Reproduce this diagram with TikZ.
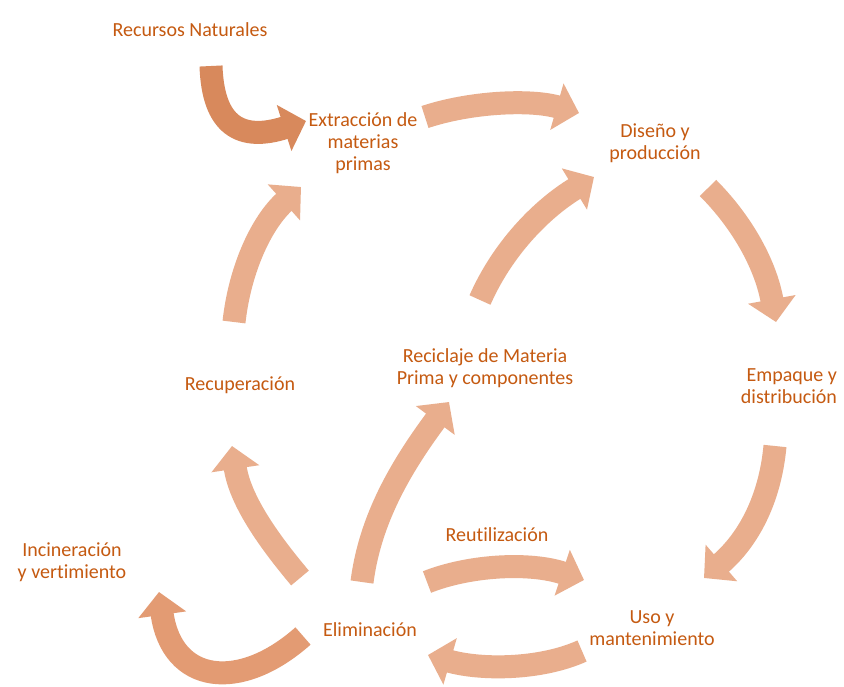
\documentclass[tikz,border=0pt]{standalone}
\usepackage{fontspec}
\setmainfont[RawFeature=-liga]{Carlito}
\usetikzlibrary{arrows.meta}
\definecolor{arrowlight}{HTML}{E9AE8D}
\definecolor{arrowdark}{HTML}{D8895C}
\definecolor{arrowmid}{HTML}{E39B73}
\definecolor{txt}{HTML}{C55A11}
\tikzset{
  blk/.style={line width=23pt, draw=arrowlight, -{Triangle[width=47pt,length=23pt]}},
  lbl/.style={text=txt, font=\fontsize{20}{22}\selectfont, align=center, inner sep=0pt}
}
\begin{document}
\begin{tikzpicture}[x=1pt,y=-1pt]
\fill[white] (0,0) rectangle (844,686);
\useasboundingbox (0,0) rectangle (844,686);
% labels
\node[lbl] (rn) at (190,30) {Recursos Naturales};
\node[lbl] (ext) at (363,143) {Extracción de\\ materias\\ primas};
\node[lbl] (dis) at (655,143) {Diseño y\\ producción};
\node[lbl, align=right] (emp) at (789,386) {Empaque y\\ distribución};
\node[lbl] (uso) at (652,628) {Uso y\\ mantenimiento};
\node[lbl] (eli) at (370,630) {Eliminación};
\node[lbl] (reu) at (497,535) {Reutilización};
\node[lbl] (rec) at (485,368) {Reciclaje de Materia\\ Prima y componentes};
\node[lbl] (recu) at (240,385) {Recuperación};
\node[lbl] (inc) at (72,562) {Incineración\\ y vertimiento};
% arrow end points
\coordinate (a1s) at (211,66);   \coordinate (a1e) at (306,121);
\coordinate (a2s) at (425,117);  \coordinate (a2e) at (579,113);
\coordinate (a3s) at (708,188);  \coordinate (a3e) at (776,322);
\coordinate (a4s) at (775,446);  \coordinate (a4e) at (704,578);
\coordinate (a5s) at (582,651);  \coordinate (a5e) at (428,655);
\coordinate (a6s) at (427,582);  \coordinate (a6e) at (584,580);
\coordinate (a7s) at (300,578);  \coordinate (a7e) at (232,446);
\coordinate (a8s) at (234,322);  \coordinate (a8e) at (301,187);
\coordinate (a9s) at (362,582);  \coordinate (a9e) at (449,402);
\coordinate (a10s) at (480,300); \coordinate (a10e) at (594,177);
\coordinate (a11s) at (303,636); \coordinate (a11e) at (159,592);
% arrows
\draw[blk, draw=arrowdark] (a1s) .. controls (213,125) and (240,142) .. (a1e);
\draw[blk] (a2s) .. controls (470,102) and (530,99) .. (a2e);
\draw[blk] (a3s) .. controls (740,220) and (765,262) .. (a3e);
\draw[blk] (a4s) .. controls (770,500) and (748,540) .. (a4e);
\draw[blk] (a5s) .. controls (540,670) and (480,670) .. (a5e);
\draw[blk] (a6s) .. controls (470,565) and (530,562) .. (a6e);
\draw[blk] (a7s) .. controls (268,540) and (240,500) .. (a7e);
\draw[blk] (a8s) .. controls (240,268) and (262,222) .. (a8e);
\draw[blk] (a9s) .. controls (370,520) and (400,468) .. (a9e);
\draw[blk] (a10s) .. controls (502,250) and (540,210) .. (a10e);
\draw[blk, draw=arrowmid] (a11s) .. controls (240,692) and (172,684) .. (a11e);
\end{tikzpicture}
\end{document}
